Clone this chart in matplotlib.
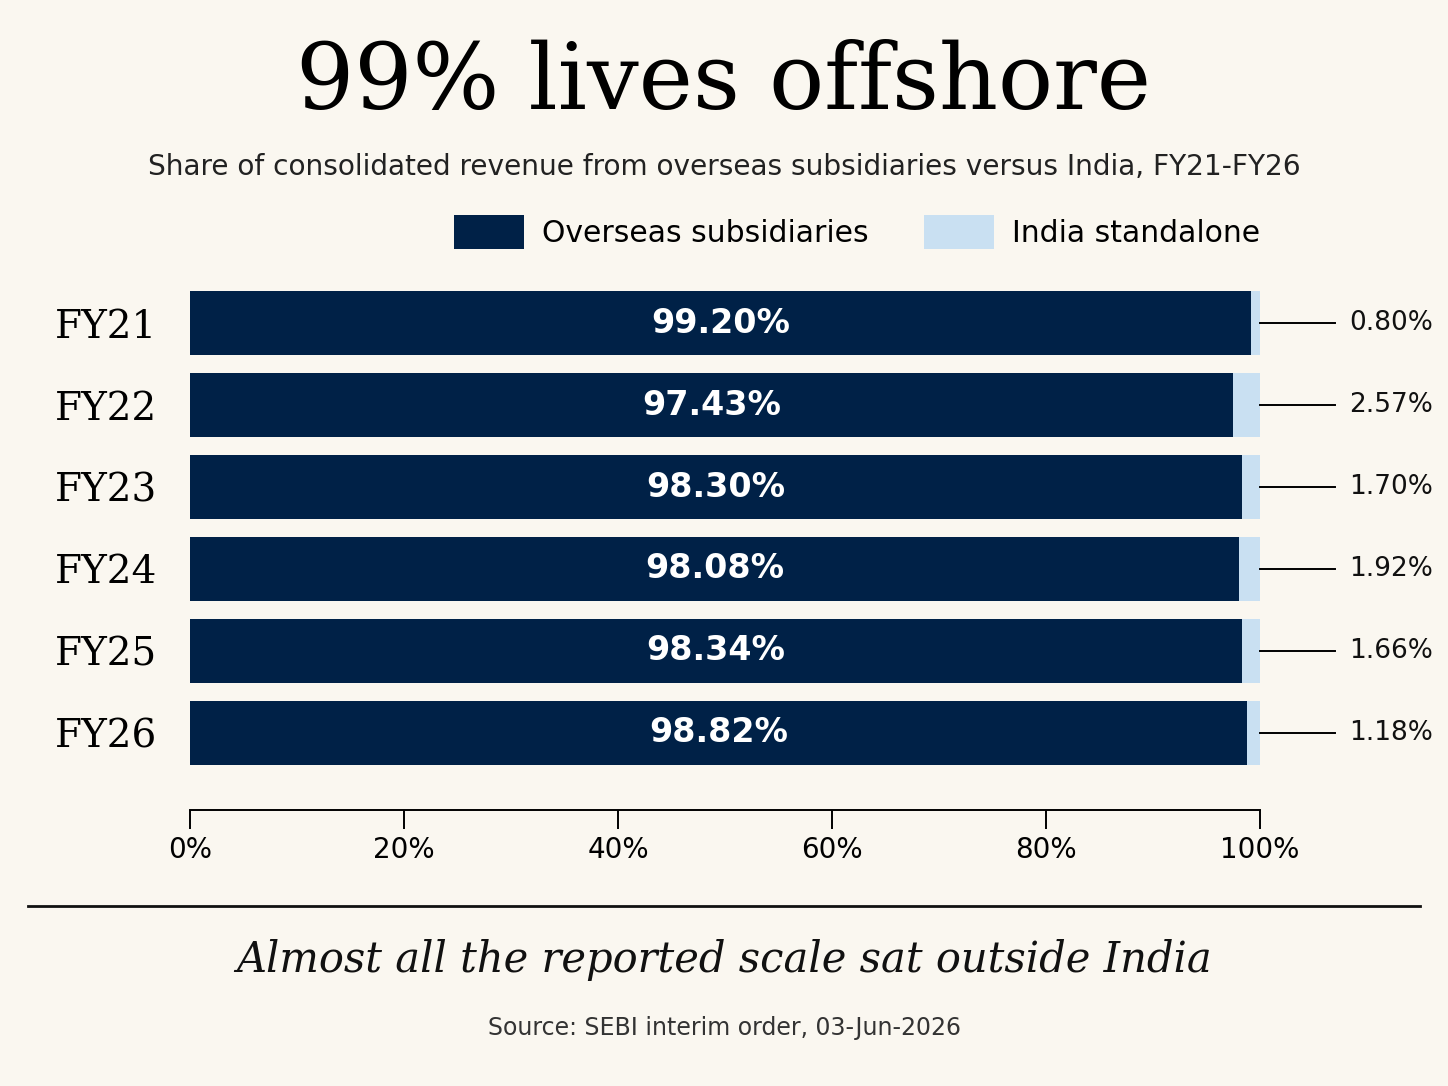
import numpy as np
import matplotlib.pyplot as plt
from matplotlib.lines import Line2D

# dati
years = ["FY21", "FY22", "FY23", "FY24", "FY25", "FY26"]
overseas = [99.20, 97.43, 98.30, 98.08, 98.34, 98.82]
india = [0.80, 2.57, 1.70, 1.92, 1.66, 1.18]
xticks = [0, 20, 40, 60, 80, 100]

bg = "#faf7f0"
navy = "#002147"
light = "#c9e0f2"

fig = plt.figure(figsize=(14.48, 10.86), dpi=100, facecolor=bg)
ax = fig.add_axes([190 / 1448, 1 - 810 / 1086, 1070 / 1448, 564 / 1086])
ax.set_facecolor(bg)

y = np.arange(len(years))
ax.barh(y, overseas, height=0.77, color=navy, label="Overseas subsidiaries")
ax.barh(y, india, left=overseas, height=0.77, color=light, label="India standalone")

# etichette dentro e fuori le barre
for i in range(len(years)):
    ax.text(overseas[i] / 2, y[i], f"{overseas[i]:.2f}%", color="white",
            fontsize=24, fontweight="bold", ha="center", va="center")
    ax.plot([100, 107], [y[i], y[i]], color="black", lw=1.4, clip_on=False)
    ax.text(108.3, y[i], f"{india[i]:.2f}%", fontsize=19, ha="left",
            va="center", color="#111111")

ax.set_xlim(0, 100)
ax.set_ylim(len(years) - 1 + 0.94, -0.94)
ax.set_yticks(y)
ax.set_yticklabels(years, fontfamily="DejaVu Serif", fontsize=28)
ax.set_xticks(xticks)
ax.set_xticklabels([f"{t}%" for t in xticks], fontsize=20)
ax.tick_params(axis="y", length=0, pad=23.5)
ax.tick_params(axis="x", length=14, width=1.4, pad=5)
for s in ["top", "right", "left"]:
    ax.spines[s].set_visible(False)
ax.spines["bottom"].set_linewidth(1.4)

leg = ax.legend(loc="center right", bbox_to_anchor=(1.0, (810 - 232) / 564),
                ncol=2, frameon=False, fontsize=21.5, handlelength=2.35,
                handleheight=1.4, handletextpad=0.6, columnspacing=1.85,
                borderaxespad=0.0, borderpad=0.0)

# titoli
fig.text(0.5, 1 - 84 / 1086, "99% lives offshore", fontfamily="DejaVu Serif",
         fontsize=66, ha="center", va="center")
fig.text(0.5, 1 - 167 / 1086,
         "Share of consolidated revenue from overseas subsidiaries versus India, FY21-FY26",
         fontsize=20.2, ha="center", va="center", color="#222222")

# riga separatrice e note in basso
fig.add_artist(Line2D([28 / 1448, 1420 / 1448], [1 - 906 / 1086, 1 - 906 / 1086],
                      color="#111111", lw=2))
fig.text(0.5, 1 - 960 / 1086, "Almost all the reported scale sat outside India",
         fontfamily="DejaVu Serif", fontstyle="italic", fontsize=30,
         ha="center", va="center", color="#111111")
fig.text(0.5, 1 - 1028 / 1086, "Source: SEBI interim order, 03-Jun-2026",
         fontsize=17, ha="center", va="center", color="#333333")

fig.savefig("out.png", dpi=100, facecolor=bg)
